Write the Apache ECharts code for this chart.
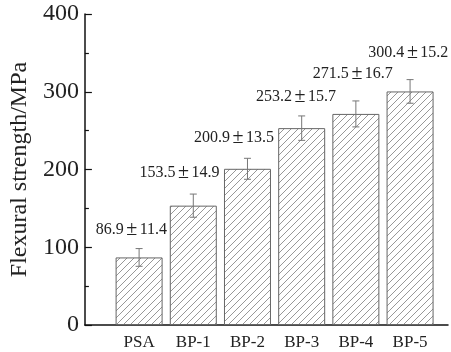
<!DOCTYPE html>
<html>
<head>
<meta charset="utf-8">
<script src="https://cdn.jsdelivr.net/npm/echarts@6/dist/echarts.min.js"></script>
<style>
  html, body { margin: 0; padding: 0; background: #fff; }
  #chart { width: 451px; height: 352px; }
</style>
</head>
<body>
<div id="chart"></div>
<script>
// Flexural strength of each sample, mean and standard deviation (MPa)
const categories = ['PSA', 'BP-1', 'BP-2', 'BP-3', 'BP-4', 'BP-5'];
const strength = [86.9, 153.5, 200.9, 253.2, 271.5, 300.4];
const deviation = [11.4, 14.9, 13.5, 15.7, 16.7, 15.2];
const yTicks = [0, 100, 200, 300, 400];

// placement of each value label: horizontal shift from the bar centre and
// height of its centre above the top of the error bar (px)
const labelDx = [-7.7, -13.9, -13.6, -5.8, -3, -1.7];
const labelRise = [18.6, 21, 21, 19, 27, 26.6];

const FONT = '"Liberation Serif", "Times New Roman", serif';

// diagonal hatch fill for the bars
function hatch() {
  const s = 7;
  const c = document.createElement('canvas');
  c.width = s; c.height = s;
  const g = c.getContext('2d');
  g.fillStyle = '#fff';
  g.fillRect(0, 0, s, s);
  g.strokeStyle = '#8c8c8c';
  g.lineWidth = 0.9;
  g.beginPath();
  g.moveTo(0, s); g.lineTo(s, 0);
  g.moveTo(-1, 1); g.lineTo(1, -1);
  g.moveTo(s - 1, s + 1); g.lineTo(s + 1, s - 1);
  g.stroke();
  return c;
}

const chart = echarts.init(document.getElementById('chart'), null, { renderer: 'canvas' });

const barData = strength.map((v, i) => [i + 1, v]);
const errData = strength.map((v, i) => [i + 1, v - deviation[i], v + deviation[i]]);

chart.setOption({
  animation: false,
  grid: { left: 81, right: 0, top: 14, bottom: 27, containLabel: false },
  xAxis: {
    type: 'value',
    min: 0,
    max: 6.70,
    interval: 1,
    axisLine: { show: true, lineStyle: { color: '#111', width: 1.5 } },
    axisTick: { show: false },
    splitLine: { show: false },
    axisLabel: {
      color: '#222',
      fontFamily: FONT,
      fontSize: 17,
      margin: 9,
      formatter: v => (v >= 1 && v <= categories.length && Number.isInteger(v)) ? categories[v - 1] : ''
    }
  },
  yAxis: {
    type: 'value',
    min: yTicks[0],
    max: yTicks[yTicks.length - 1],
    interval: 100,
    name: 'Flexural strength/MPa',
    nameLocation: 'middle',
    nameGap: 48,
    nameTextStyle: { color: '#222', fontFamily: FONT, fontSize: 24 },
    axisLine: { show: true, lineStyle: { color: '#111', width: 1.5 } },
    axisTick: { show: true, inside: true, length: 7, lineStyle: { color: '#111', width: 1.2 } },
    minorTick: { show: true, splitNumber: 2, length: 4, lineStyle: { color: '#111', width: 1.2 } },
    splitLine: { show: false },
    axisLabel: {
      color: '#222',
      fontFamily: FONT,
      fontSize: 24,
      margin: 6
    }
  },
  series: [
    {
      type: 'bar',
      data: barData,
      barWidth: 47,
      itemStyle: {
        color: { image: hatch(), repeat: 'repeat' },
        borderColor: '#666',
        borderWidth: 1
      },
      z: 2
    },
    {
      type: 'custom',
      data: errData,
      z: 3,
      renderItem: function (params, api) {
        const x = api.value(0);
        const lo = api.coord([x, api.value(1)]);
        const hi = api.coord([x, api.value(2)]);
        const cap = 3.5;
        const style = { stroke: '#777', lineWidth: 1 };
        const i = params.dataIndex;
        return {
          type: 'group',
          children: [
            { type: 'line', shape: { x1: hi[0], y1: hi[1], x2: lo[0], y2: lo[1] }, style },
            { type: 'line', shape: { x1: hi[0] - cap, y1: hi[1], x2: hi[0] + cap, y2: hi[1] }, style },
            { type: 'line', shape: { x1: lo[0] - cap, y1: lo[1], x2: lo[0] + cap, y2: lo[1] }, style },
            {
              type: 'text',
              style: {
                x: hi[0] + labelDx[i],
                y: hi[1] - labelRise[i],
                text: strength[i].toFixed(1) + '{pm|±}' + deviation[i].toFixed(1),
                fill: '#222',
                font: '16px ' + FONT,
                align: 'center',
                verticalAlign: 'middle',
                rich: {
                  pm: { width: 16, align: 'center', fontSize: 20, fontFamily: FONT, fill: '#222' }
                }
              }
            }
          ]
        };
      }
    }
  ]
});
</script>
</body>
</html>
